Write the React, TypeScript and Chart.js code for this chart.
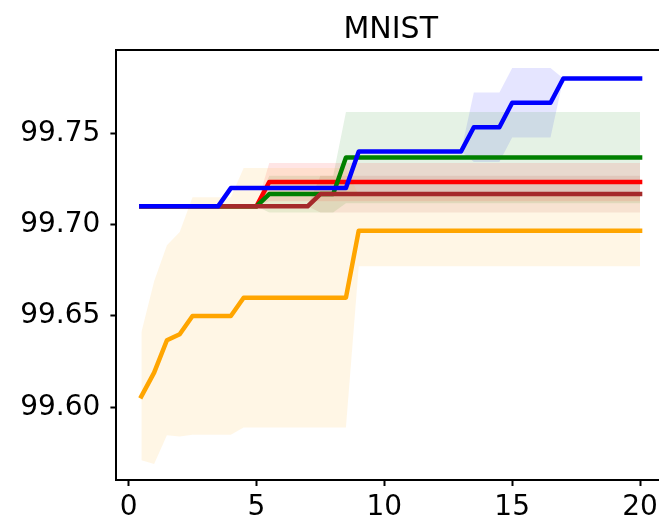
import React, { useEffect, useRef } from "react";
import { Chart, registerables } from "chart.js";

Chart.register(...registerables);

const titleText = "MNIST";
const xValues = [0.5, 1, 1.5, 2, 2.5, 3, 3.5, 4, 4.5, 5, 5.5, 6, 6.5, 7, 7.5, 8, 8.5, 9, 9.5, 10, 10.5, 11, 11.5, 12, 12.5, 13, 13.5, 14, 14.5, 15, 15.5, 16, 16.5, 17, 17.5, 18, 18.5, 19, 19.5, 20];
const xTicks = [0, 5, 10, 15, 20];
const yTicks = [99.6, 99.65, 99.7, 99.75];

const orangeMean = [99.606, 99.619, 99.6367, 99.64, 99.65, 99.65, 99.65, 99.65, 99.66, 99.66, 99.66, 99.66, 99.66, 99.66, 99.66, 99.66, 99.66, 99.6967, 99.6967, 99.6967, 99.6967, 99.6967, 99.6967, 99.6967, 99.6967, 99.6967, 99.6967, 99.6967, 99.6967, 99.6967, 99.6967, 99.6967, 99.6967, 99.6967, 99.6967, 99.6967, 99.6967, 99.6967, 99.6967, 99.6967];
const orangeStd = [0.035, 0.05, 0.052, 0.056, 0.065, 0.065, 0.065, 0.065, 0.071, 0.071, 0.071, 0.071, 0.071, 0.071, 0.071, 0.071, 0.071, 0.0195, 0.0195, 0.0195, 0.0195, 0.0195, 0.0195, 0.0195, 0.0195, 0.0195, 0.0195, 0.0195, 0.0195, 0.0195, 0.0195, 0.0195, 0.0195, 0.0195, 0.0195, 0.0195, 0.0195, 0.0195, 0.0195, 0.0195];

const redMean = [99.71, 99.71, 99.71, 99.71, 99.71, 99.71, 99.71, 99.71, 99.71, 99.71, 99.7233, 99.7233, 99.7233, 99.7233, 99.7233, 99.7233, 99.7233, 99.7233, 99.7233, 99.7233, 99.7233, 99.7233, 99.7233, 99.7233, 99.7233, 99.7233, 99.7233, 99.7233, 99.7233, 99.7233, 99.7233, 99.7233, 99.7233, 99.7233, 99.7233, 99.7233, 99.7233, 99.7233, 99.7233, 99.7233];
const redStd = [0, 0, 0, 0, 0, 0, 0, 0, 0, 0, 0.0105, 0.0105, 0.0105, 0.0105, 0.0105, 0.0105, 0.0105, 0.0105, 0.0105, 0.0105, 0.0105, 0.0105, 0.0105, 0.0105, 0.0105, 0.0105, 0.0105, 0.0105, 0.0105, 0.0105, 0.0105, 0.0105, 0.0105, 0.0105, 0.0105, 0.0105, 0.0105, 0.0105, 0.0105, 0.0105];

const greenMean = [99.71, 99.71, 99.71, 99.71, 99.71, 99.71, 99.71, 99.71, 99.71, 99.71, 99.7167, 99.7167, 99.7167, 99.7167, 99.7167, 99.7167, 99.7367, 99.7367, 99.7367, 99.7367, 99.7367, 99.7367, 99.7367, 99.7367, 99.7367, 99.7367, 99.7367, 99.7367, 99.7367, 99.7367, 99.7367, 99.7367, 99.7367, 99.7367, 99.7367, 99.7367, 99.7367, 99.7367, 99.7367, 99.7367];
const greenStd = [0, 0, 0, 0, 0, 0, 0, 0, 0, 0, 0.01, 0.01, 0.01, 0.01, 0.01, 0.01, 0.025, 0.025, 0.025, 0.025, 0.025, 0.025, 0.025, 0.025, 0.025, 0.025, 0.025, 0.025, 0.025, 0.025, 0.025, 0.025, 0.025, 0.025, 0.025, 0.025, 0.025, 0.025, 0.025, 0.025];

const brownMean = [99.71, 99.71, 99.71, 99.71, 99.71, 99.71, 99.71, 99.71, 99.71, 99.71, 99.71, 99.71, 99.71, 99.71, 99.7167, 99.7167, 99.7167, 99.7167, 99.7167, 99.7167, 99.7167, 99.7167, 99.7167, 99.7167, 99.7167, 99.7167, 99.7167, 99.7167, 99.7167, 99.7167, 99.7167, 99.7167, 99.7167, 99.7167, 99.7167, 99.7167, 99.7167, 99.7167, 99.7167, 99.7167];
const brownStd = [0, 0, 0, 0, 0, 0, 0, 0, 0, 0, 0, 0, 0, 0, 0.01, 0.01, 0.01, 0.01, 0.01, 0.01, 0.01, 0.01, 0.01, 0.01, 0.01, 0.01, 0.01, 0.01, 0.01, 0.01, 0.01, 0.01, 0.01, 0.01, 0.01, 0.01, 0.01, 0.01, 0.01, 0.01];

const blueMean = [99.71, 99.71, 99.71, 99.71, 99.71, 99.71, 99.71, 99.72, 99.72, 99.72, 99.72, 99.72, 99.72, 99.72, 99.72, 99.72, 99.72, 99.74, 99.74, 99.74, 99.74, 99.74, 99.74, 99.74, 99.74, 99.74, 99.7533, 99.7533, 99.7533, 99.7667, 99.7667, 99.7667, 99.7667, 99.78, 99.78, 99.78, 99.78, 99.78, 99.78, 99.78];
const blueStd = [0, 0, 0, 0, 0, 0, 0, 0, 0, 0, 0, 0, 0, 0, 0, 0, 0, 0, 0, 0, 0, 0, 0, 0, 0, 0, 0.019, 0.019, 0.019, 0.019, 0.019, 0.019, 0.019, 0, 0, 0, 0, 0, 0, 0];

type Series = { name: string; mean: number[]; std: number[]; line: string; band: string; order: number };

const series: Series[] = [
  { name: "orange", mean: orangeMean, std: orangeStd, line: "#FFA500", band: "rgba(255,165,0,0.1)", order: 5 },
  { name: "red", mean: redMean, std: redStd, line: "#FF0000", band: "rgba(255,0,0,0.1)", order: 4 },
  { name: "green", mean: greenMean, std: greenStd, line: "#008000", band: "rgba(0,128,0,0.1)", order: 3 },
  { name: "brown", mean: brownMean, std: brownStd, line: "#A52A2A", band: "rgba(165,42,42,0.1)", order: 2 },
  { name: "blue", mean: blueMean, std: blueStd, line: "#0000FF", band: "rgba(0,0,255,0.1)", order: 1 },
];

const FONT = "'DejaVu Sans', sans-serif";

const framePlugin = {
  id: "frame",
  afterDraw(chart: any) {
    const { ctx, chartArea } = chart;
    const { left, top, right } = chartArea;
    const xScale = chart.scales.x;
    ctx.save();
    ctx.strokeStyle = "#000";
    ctx.lineWidth = 2;
    ctx.beginPath();
    ctx.moveTo(left - 1, top);
    ctx.lineTo(chart.width + 5, top);
    ctx.stroke();
    ctx.fillStyle = "#000";
    ctx.font = "30px " + FONT;
    ctx.textAlign = "center";
    ctx.textBaseline = "alphabetic";
    ctx.fillText(titleText, (left + right) / 2, 37.5);
    // x tick labels, placed on the axis through the x scale
    ctx.font = "28px " + FONT;
    xTicks.forEach((v) => {
      ctx.fillText(String(v), xScale.getPixelForValue(v), 515);
    });
    ctx.restore();
  },
};

export default function App() {
  const ref = useRef<HTMLCanvasElement>(null);

  useEffect(() => {
    const datasets: any[] = [];
    series.forEach((s) => {
      datasets.push({
        label: s.name + " upper",
        data: xValues.map((x, i) => ({ x, y: s.mean[i] + s.std[i] })),
        borderWidth: 0,
        borderColor: "rgba(0,0,0,0)",
        backgroundColor: s.band,
        pointRadius: 0,
        fill: "+1",
        order: 20,
      });
      datasets.push({
        label: s.name + " lower",
        data: xValues.map((x, i) => ({ x, y: s.mean[i] - s.std[i] })),
        borderWidth: 0,
        borderColor: "rgba(0,0,0,0)",
        backgroundColor: s.band,
        pointRadius: 0,
        fill: false,
        order: 20,
      });
    });
    series.forEach((s) => {
      datasets.push({
        label: s.name,
        data: xValues.map((x, i) => ({ x, y: s.mean[i] })),
        borderColor: s.line,
        borderWidth: 4.5,
        borderCapStyle: "square",
        borderJoinStyle: "round",
        pointRadius: 0,
        fill: false,
        tension: 0,
        order: s.order,
      });
    });

    const chart = new Chart(ref.current as HTMLCanvasElement, {
      type: "line",
      data: { datasets },
      plugins: [framePlugin],
      options: {
        animation: false,
        responsive: false,
        devicePixelRatio: 1,
        layout: { padding: { top: 50, left: 0, right: 0, bottom: 0 } },
        plugins: {
          legend: { display: false },
          tooltip: { enabled: false },
          filler: { drawTime: "beforeDatasetsDraw" },
          title: { display: false },
        },
        scales: {
          x: {
            type: "linear",
            min: -0.475,
            max: 20.975,
            afterBuildTicks: (scale: any) => {
              scale.ticks = xTicks.map((v) => ({ value: v }));
            },
            afterFit: (scale: any) => {
              scale.height = 39;
              scale.paddingLeft = 0;
              scale.paddingRight = 0;
            },
            ticks: {
              display: false,
              autoSkip: false,
            },
            grid: {
              drawOnChartArea: false,
              drawTicks: true,
              tickLength: 6,
              tickWidth: 2,
              tickColor: "#000",
            },
            border: { display: true, color: "#000", width: 2 },
          },
          y: {
            type: "linear",
            min: 99.5602,
            max: 99.7956,
            afterBuildTicks: (scale: any) => {
              scale.ticks = yTicks.map((v) => ({ value: v }));
            },
            afterFit: (scale: any) => {
              scale.width = 116.4;
              scale.paddingTop = 0;
              scale.paddingBottom = 0;
            },
            ticks: {
              color: "#000",
              font: { family: FONT, size: 28 },
              padding: 10,
              autoSkip: false,
              callback: (v: any) => Number(v).toFixed(2),
            },
            grid: {
              drawOnChartArea: false,
              drawTicks: true,
              tickLength: 6,
              tickWidth: 2,
              tickColor: "#000",
            },
            border: { display: true, color: "#000", width: 2 },
          },
        },
      } as any,
    });
    return () => chart.destroy();
  }, []);

  return (
    <div
      style={{
        position: "fixed",
        left: 0,
        top: 0,
        width: 659,
        height: 519,
        overflow: "hidden",
        background: "#fff",
      }}
    >
      <canvas ref={ref} width={665} height={519} style={{ display: "block", width: 665, height: 519 }} />
    </div>
  );
}
